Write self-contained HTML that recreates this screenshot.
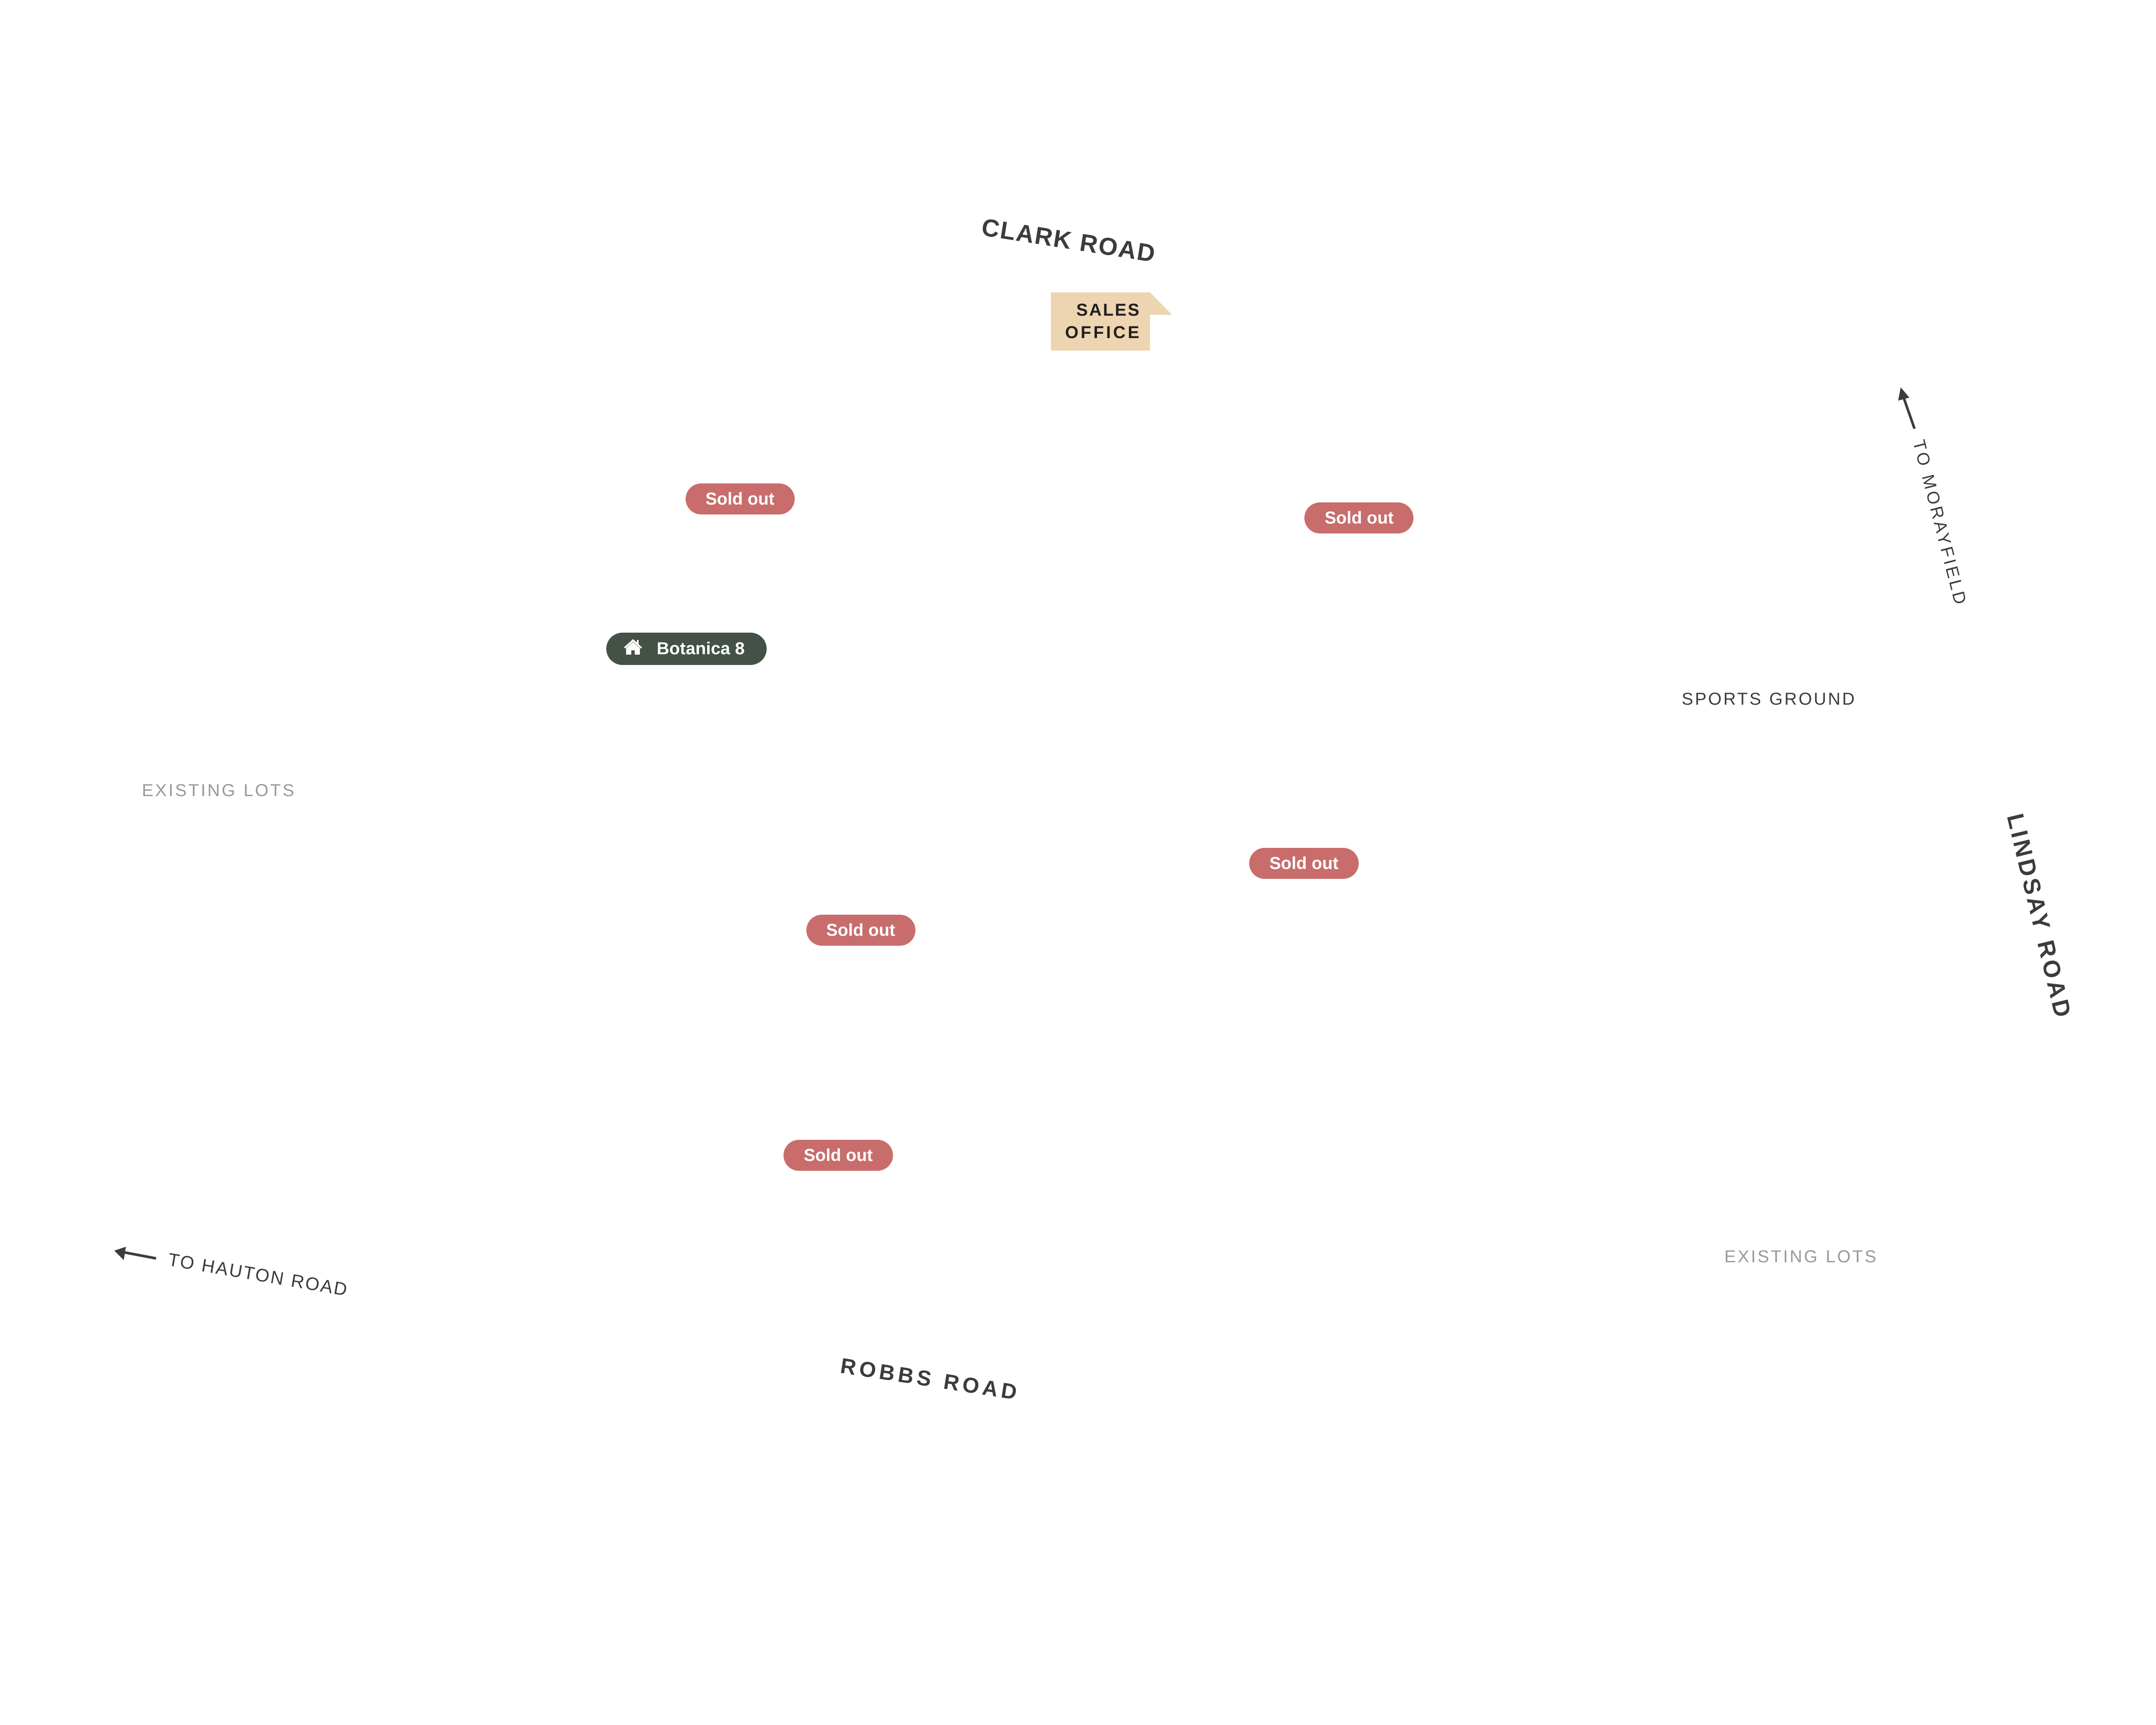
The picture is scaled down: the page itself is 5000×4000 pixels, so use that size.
<!DOCTYPE html>
<html><head><meta charset="utf-8">
<style>
html,body{margin:0;padding:0;background:#fff;}
svg{display:block;}
text{font-family:"Liberation Sans",sans-serif;}
</style></head>
<body>
<svg width="5000" height="4000" viewBox="0 0 5000 4000" xmlns="http://www.w3.org/2000/svg">
<rect width="5000" height="4000" fill="#fff"/>

<!-- CLARK ROAD -->
<text x="2274" y="545" font-size="57" font-weight="bold" fill="#3c3c3e" textLength="406" lengthAdjust="spacing" transform="rotate(8.9 2274 545)">CLARK ROAD</text>

<!-- SALES OFFICE -->
<polygon points="2437,678 2667,678 2718,730 2667,730 2667,813 2437,813" fill="#ecd5b0"/>
<text x="2642" y="732" font-size="40" font-weight="bold" fill="#231f20" text-anchor="end" textLength="146" lengthAdjust="spacing">SALES</text>
<text x="2642" y="784" font-size="40" font-weight="bold" fill="#231f20" text-anchor="end" textLength="172" lengthAdjust="spacing">OFFICE</text>

<!-- Sold out pills -->
<g font-size="40" font-weight="bold" fill="#fff" text-anchor="middle">
<rect x="1590" y="1121" width="253" height="72" rx="36" fill="#c86d6c"/>
<text x="1716" y="1170" textLength="160" lengthAdjust="spacingAndGlyphs">Sold out</text>
<rect x="3025" y="1165" width="253" height="72" rx="36" fill="#c86d6c"/>
<text x="3152" y="1214" textLength="160" lengthAdjust="spacingAndGlyphs">Sold out</text>
<rect x="2897" y="1966" width="254" height="72" rx="36" fill="#c86d6c"/>
<text x="3024" y="2015" textLength="160" lengthAdjust="spacingAndGlyphs">Sold out</text>
<rect x="1870" y="2121" width="253" height="72" rx="36" fill="#c86d6c"/>
<text x="1996" y="2170" textLength="160" lengthAdjust="spacingAndGlyphs">Sold out</text>
<rect x="1817" y="2643" width="254" height="72" rx="36" fill="#c86d6c"/>
<text x="1944" y="2692" textLength="160" lengthAdjust="spacingAndGlyphs">Sold out</text>
</g>

<!-- Botanica 8 -->
<rect x="1406" y="1467" width="372" height="75" rx="37.5" fill="#435147"/>
<path d="M1468,1482 L1447,1501 L1450,1504 L1468,1488 L1486,1504 L1489,1501 L1481,1494 L1481,1484 L1477,1484 L1477,1490 Z" fill="#fff"/>
<path d="M1452,1503 L1468,1489 L1484,1503 L1484,1518 L1472,1518 L1472,1508 L1464,1508 L1464,1518 L1452,1518 Z" fill="#fff"/>
<text x="1523" y="1517" font-size="40" font-weight="bold" fill="#fff" textLength="204" lengthAdjust="spacingAndGlyphs">Botanica 8</text>

<!-- TO MORAYFIELD -->
<line x1="4440" y1="994" x2="4414" y2="920" stroke="#3c3c3e" stroke-width="6"/>
<polygon points="4408,898 4428,922 4402,929" fill="#3c3c3e"/>
<text x="4436" y="1024" font-size="40" fill="#3c3c3e" textLength="392" lengthAdjust="spacing" transform="rotate(75.5 4436 1024)">TO MORAYFIELD</text>

<!-- SPORTS GROUND -->
<text x="3900" y="1634" font-size="40" fill="#3c3c3e" textLength="401" lengthAdjust="spacing">SPORTS GROUND</text>

<!-- LINDSAY ROAD -->
<text x="4654" y="1892" font-size="55" font-weight="bold" fill="#3c3c3e" textLength="483" lengthAdjust="spacing" transform="rotate(76.5 4654 1892)">LINDSAY ROAD</text>

<!-- EXISTING LOTS -->
<text x="329" y="1846" font-size="40" fill="#999" textLength="353" lengthAdjust="spacing">EXISTING LOTS</text>
<text x="3999" y="2927" font-size="40" fill="#999" textLength="352" lengthAdjust="spacing">EXISTING LOTS</text>

<!-- TO HAUTON ROAD -->
<line x1="362" y1="2918" x2="288" y2="2904" stroke="#3c3c3e" stroke-width="6"/>
<polygon points="265,2900 292,2891 287,2922" fill="#3c3c3e"/>
<text x="388" y="2934" font-size="42" fill="#3c3c3e" textLength="420" lengthAdjust="spacing" transform="rotate(9.7 388 2934)">TO HAUTON ROAD</text>

<!-- ROBBS ROAD -->
<text x="1947" y="3183" font-size="50" font-weight="bold" fill="#3c3c3e" textLength="413" lengthAdjust="spacing" transform="rotate(8.7 1947 3183)">ROBBS ROAD</text>
</svg>
</body></html>
